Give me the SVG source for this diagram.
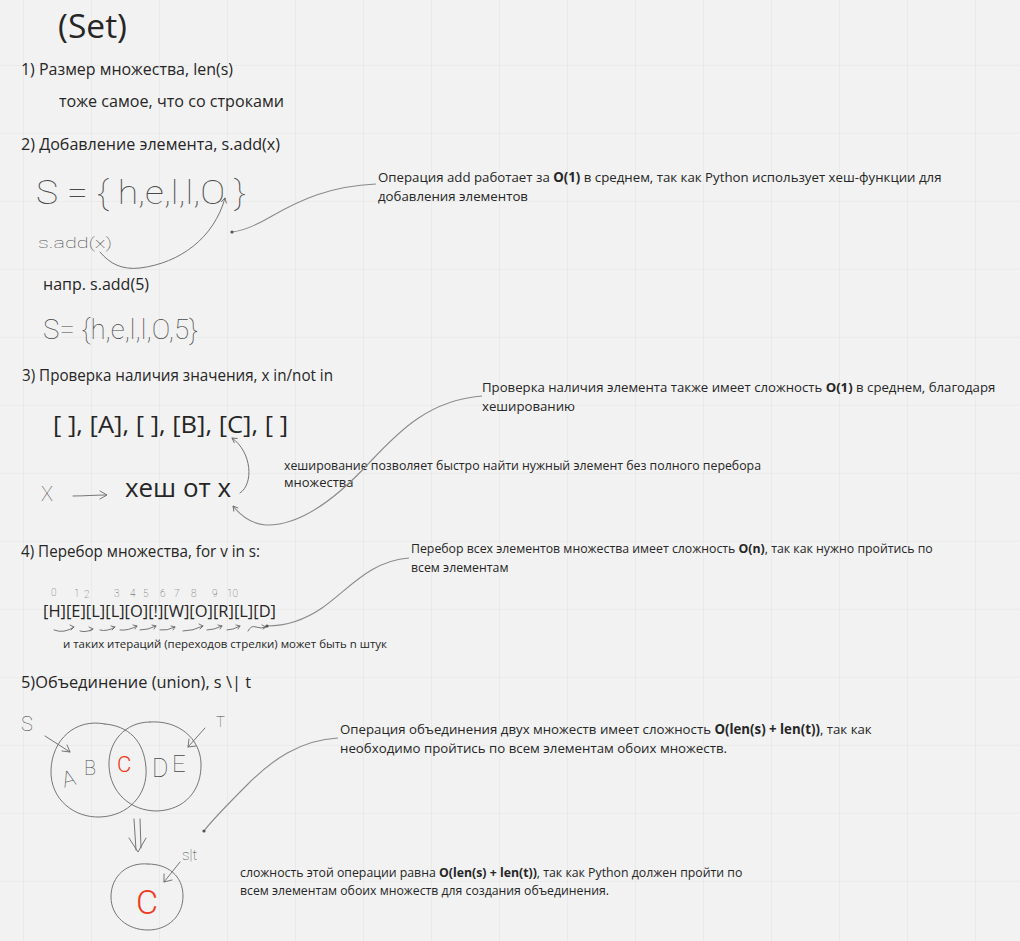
<svg xmlns="http://www.w3.org/2000/svg" width="1020" height="941" viewBox="0 0 1020 941">
<defs>
<pattern id="grid" x="23" y="-3" width="68" height="68" patternUnits="userSpaceOnUse">
<path d="M0,0 H68 M0,0 V68" fill="none" stroke="#e4e4e4" stroke-width="1.2"/>
</pattern>
<marker id="ah" viewBox="0 0 10 10" refX="8" refY="5" markerWidth="7" markerHeight="7" orient="auto-start-reverse" markerUnits="userSpaceOnUse">
<path d="M1,1 L8,5 L1,9" fill="none" stroke="#666" stroke-width="1.2"/>
</marker>
<marker id="dot" viewBox="0 0 4 4" refX="2" refY="2" markerWidth="4" markerHeight="4" markerUnits="userSpaceOnUse">
<circle cx="2" cy="2" r="1.6" fill="#555"/>
</marker>
</defs>
<style>
.t{font-family:"Open Sans","Noto Sans","Liberation Sans",sans-serif;fill:#262626}
.h{font-size:16px}
.n{font-size:13px}
.b{font-weight:bold}
.hw{font-family:"Roboto","DejaVu Sans",sans-serif;font-weight:100;fill:#4a4a4a}
.red{font-family:"Roboto","DejaVu Sans",sans-serif;font-weight:300;fill:#f0391e}
.conn{fill:none;stroke:#8a8a8a;stroke-width:1.1}
.pen{fill:none;stroke:#666;stroke-width:0.9;stroke-linecap:round;stroke-linejoin:round}
</style>
<rect width="1020" height="941" fill="#f2f2f2"/>
<rect width="1020" height="941" fill="url(#grid)"/>

<g id="title"><text class="t" x="58" y="38" font-size="32" textLength="69" lengthAdjust="spacingAndGlyphs">(Set)</text></g>

<g id="sec1">
<text class="t h" x="21" y="75" textLength="212" lengthAdjust="spacingAndGlyphs">1) Размер множества, len(s)</text>
<text class="t h" x="59" y="107" textLength="225" lengthAdjust="spacingAndGlyphs">тоже самое, что со строками</text>
</g>

<g id="sec2">
<text class="t h" x="21" y="150" textLength="259" lengthAdjust="spacingAndGlyphs">2) Добавление элемента, s.add(x)</text>
<text class="hw" x="36" y="204" font-size="34" textLength="210" lengthAdjust="spacingAndGlyphs">S = { h,e,l,l,O }</text>
<text class="hw" x="38" y="248" font-size="15" textLength="74" lengthAdjust="spacingAndGlyphs">s.add(x)</text>
<text class="t h" x="43" y="290" textLength="106" lengthAdjust="spacingAndGlyphs">напр. s.add(5)</text>
<text class="hw" x="43" y="339" font-size="28" textLength="155" lengthAdjust="spacingAndGlyphs">S= {h,e,l,l,O,5}</text>
</g>

<g id="note-add">
<text class="t" x="378" y="182" font-size="13.25">Операция add работает за <tspan class="b">O(1)</tspan> в среднем, так как Python использует хеш-функции для</text>
<text class="t" x="378" y="201" font-size="13.25">добавления элементов</text>
</g>

<g id="sec3">
<text class="t h" x="22" y="381" textLength="311" lengthAdjust="spacingAndGlyphs">3) Проверка наличия значения, x in/not in</text>
<text class="t" x="53" y="433" font-size="24" textLength="235" lengthAdjust="spacingAndGlyphs">[ ], [A], [ ], [B], [C], [ ]</text>
<text class="hw" x="41" y="501" font-size="20">X</text>
<text class="t" x="125" y="497" font-size="26" textLength="106" lengthAdjust="spacingAndGlyphs">хеш от x</text>
</g>

<g id="note-hash">
<text class="t n" x="284" y="470" textLength="477" lengthAdjust="spacingAndGlyphs">хеширование позволяет быстро найти нужный элемент без полного перебора</text>
<text class="t n" x="284" y="487">множества</text>
</g>

<g id="note-check">
<text class="t" x="482" y="392" font-size="13.2">Проверка наличия элемента также имеет сложность <tspan class="b">O(1)</tspan> в среднем, благодаря</text>
<text class="t" x="482" y="411" font-size="13.2">хешированию</text>
</g>

<g id="sec4">
<text class="t h" x="21" y="557" textLength="239" lengthAdjust="spacingAndGlyphs">4) Перебор множества, for v in s:</text>
<g class="hw" font-size="10">
<text x="51" y="596">0</text><text x="74" y="597">1</text><text x="84" y="598">2</text><text x="114" y="597">3</text><text x="130" y="597">4</text><text x="143" y="597">5</text><text x="160" y="597">6</text><text x="174" y="597">7</text><text x="191" y="597">8</text><text x="212" y="597">9</text><text x="227" y="597">10</text>
</g>
<text class="t" x="43" y="617" font-size="17" textLength="233" lengthAdjust="spacingAndGlyphs">[H][E][L][L][O][!][W][O][R][L][D]</text>
<g class="pen" stroke-width="0.7">
<path d="M54,630 q10,4 20,-3 M70,625 l4,2 l-3,3"/>
<path d="M80,631 q6,2 13,-2 M89,627 l4,2 l-3,2"/>
<path d="M100,630 q7,2 15,-3 M111,626 l4,1 l-3,3"/>
<path d="M120,630 q8,1 17,-4 M133,625 l4,1 l-2,3"/>
<path d="M140,630 q8,0 16,-4 M152,625 l4,1 l-2,3"/>
<path d="M160,630 q7,1 15,-3 M171,626 l4,1 l-2,3"/>
<path d="M183,631 q10,0 20,-5 M199,624 l4,2 l-3,3"/>
<path d="M207,630 q7,0 15,-4 M218,625 l4,1 l-2,3"/>
<path d="M227,630 q6,0 13,-4 M236,625 l4,1 l-2,3"/>
<path d="M248,631 q3,-6 8,-4 q5,2 10,0 M262,625 l4,2 l-3,2"/>
</g>
<text class="t" x="63" y="648" font-size="11" textLength="324" lengthAdjust="spacingAndGlyphs">и таких итераций (переходов стрелки) может быть n штук</text>
</g>

<g id="note-iter">
<text class="t" x="411" y="553" font-size="12.3">Перебор всех элементов множества имеет сложность <tspan class="b">O(n)</tspan>, так как нужно пройтись по</text>
<text class="t" x="411" y="572" font-size="12.3">всем элементам</text>
</g>

<g id="sec5">
<text class="t h" x="21" y="688" textLength="230" lengthAdjust="spacingAndGlyphs">5)Объединение (union), s \| t</text>
</g>

<g id="venn">
<path class="pen" d="M105,724 C75,718 52,740 51,770 C50,800 75,818 100,817 C128,816 148,795 146,768 C144,740 128,726 105,724"/>
<path class="pen" d="M150,722 C125,722 108,742 109,766 C110,792 130,811 157,811 C185,810 202,790 201,763 C200,738 178,720 150,722"/>
<text class="hw" x="21" y="731" font-size="20">S</text>
<path class="pen" d="M45,736 L70,752 M62,751 L70,752 L67,745"/>
<text class="hw" x="62" y="786" font-size="22" transform="rotate(-15 70 778)">A</text>
<text class="hw" x="84" y="775" font-size="20">B</text>
<text class="red" x="117" y="772" font-size="22">C</text>
<text class="hw" x="152" y="777" font-size="25">D</text>
<text class="hw" x="172" y="772" font-size="24">E</text>
<text class="hw" x="216" y="727" font-size="15">T</text>
<path class="pen" d="M205,728 L188,747 M189,739 L188,747 L196,746"/>
<path class="pen" d="M134,819 L136,850 M140,819 L141,848 M129,838 L138,852 L146,838"/>
</g>

<g id="union-result">
<text class="hw" x="182" y="860" font-size="15">s|t</text>
<path class="pen" d="M180,862 L164,882 M164,874 L164,882 L172,880"/>
<path class="pen" d="M148,864 C127,862 111,876 111,897 C111,916 127,930 148,930 C168,930 183,916 183,896 C183,876 168,864 148,864"/>
<text class="red" x="136" y="914" font-size="34">C</text>
</g>

<g id="note-union">
<text class="t" x="340" y="734" font-size="13.25">Операция объединения двух множеств имеет сложность <tspan class="b">O(len(s) + len(t))</tspan>, так как</text>
<text class="t n" x="340" y="753" textLength="387" lengthAdjust="spacingAndGlyphs">необходимо пройтись по всем элементам обоих множеств.</text>
</g>

<g id="note-complexity">
<text class="t" x="240" y="877" font-size="12.3">сложность этой операции равна <tspan class="b">O(len(s) + len(t))</tspan>, так как Python должен пройти по</text>
<text class="t n" x="240" y="895" textLength="369" lengthAdjust="spacingAndGlyphs">всем элементам обоих множеств для создания объединения.</text>
</g>

<g id="connectors">
<path class="conn" d="M376,184 C330,186 300,200 272,216 C255,226 243,231 232,232" marker-end="url(#dot)"/>
<path class="pen" d="M100,252 C110,264 122,270 140,268 C180,263 214,238 225,198" marker-end="url(#ah)"/>
<path class="pen" d="M73,496 C85,496 95,495 106,495 M100,491 L107,495 L100,499"/>
<path class="conn" d="M482,396 C430,400 400,430 370,462 C335,500 300,526 266,525 C252,524 241,516 233,506" marker-end="url(#ah)"/>
<path class="pen" d="M240,493 C254,484 252,452 232,438" marker-end="url(#ah)"/>
<path class="conn" d="M409,558 C370,561 350,588 322,608 C303,621 283,626 267,626" marker-end="url(#dot)"/>
<path class="conn" d="M338,738 C300,740 272,760 248,784 C228,804 212,820 204,831" marker-end="url(#dot)"/>
</g>
</svg>
